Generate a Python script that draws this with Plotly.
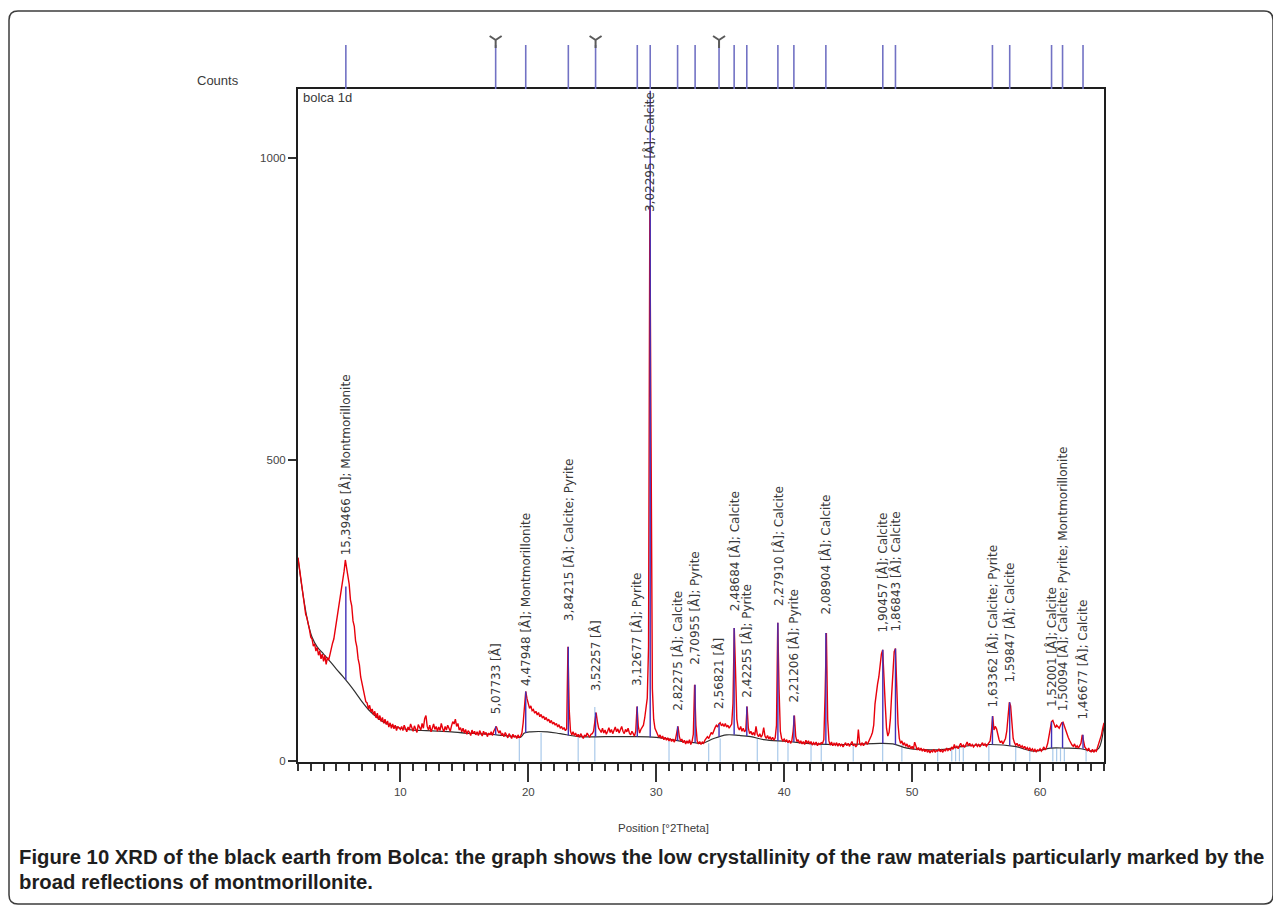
import plotly.graph_objects as go

# ---------------- data ----------------
scan_start = 2.0      # °2Theta of first sample
scan_step = 0.1       # °2Theta step
counts = [
    338, 322, 301, 290, 271, 262, 244, 238, 224, 218,   # 2
    206, 203, 191, 195, 183, 189, 176, 183, 170, 178,   # 3
    166, 176, 161, 172, 168, 179, 184, 196, 203, 217,   # 4
    229, 241, 259, 268, 288, 296, 315, 334, 321, 303,   # 5
    294, 268, 258, 233, 224, 200, 190, 170, 160, 140,   # 6
    131, 117, 112, 99, 97, 87, 93, 82, 87, 77,          # 7
    83, 72, 80, 69, 76, 66, 73, 63, 70, 61,             # 8
    67, 57, 64, 55, 62, 54, 60, 51, 58, 55,             # 9
    53, 58, 51, 60, 55, 49, 57, 52, 62, 54,             # 10
    50, 59, 53, 48, 61, 56, 52, 63, 55, 71,             # 11
    76, 58, 52, 60, 49, 55, 62, 53, 58, 50,             # 12
    57, 51, 63, 55, 49, 58, 52, 60, 54, 50,             # 13
    59, 66, 62, 70, 58, 63, 52, 56, 49, 55,             # 14
    47, 53, 45, 51, 48, 43, 52, 46, 50, 44,             # 15
    49, 43, 51, 46, 42, 50, 45, 48, 41, 47,             # 16
    44, 49, 43, 50, 55, 58, 52, 47, 51, 44,             # 17
    46, 41, 48, 43, 39, 46, 42, 38, 45, 40,             # 18
    43, 38, 44, 39, 42, 47, 64, 98, 116, 104,           # 19
    95, 88, 92, 84, 86, 80, 83, 77, 81, 74,             # 20
    78, 72, 75, 69, 73, 67, 70, 64, 68, 62,             # 21
    65, 60, 63, 57, 61, 55, 58, 53, 56, 51,             # 22
    54, 190, 85, 50, 44, 49, 43, 47, 41, 45,            # 23
    40, 46, 42, 38, 44, 41, 47, 43, 40, 45,             # 24
    46, 50, 70, 81, 66, 55, 52, 48, 55, 47,             # 25
    52, 45, 50, 56, 48, 53, 46, 51, 57, 49,             # 26
    54, 47, 52, 58, 50, 46, 53, 49, 55, 47,             # 27
    44, 50, 46, 42, 50, 91, 58, 47, 53, 58,             # 28
    60, 72, 85, 105, 190, 920, 520, 120, 70, 55,        # 29
    50, 46, 40, 44, 38, 42, 36, 40, 35, 39,             # 30
    34, 38, 33, 37, 32, 36, 48, 58, 42, 34,             # 31
    37, 31, 35, 29, 34, 30, 36, 28, 33, 45,             # 32
    127, 60, 34, 29, 33, 28, 32, 30, 35, 38,            # 33
    41, 38, 44, 48, 45, 52, 56, 60, 57, 62,             # 34
    64, 59, 62, 58, 63, 57, 60, 55, 58, 62,             # 35
    96, 221, 150, 70, 56, 52, 58, 50, 55, 49,           # 36
    52, 91, 55, 46, 50, 44, 48, 43, 58, 45,             # 37
    41, 46, 40, 44, 56, 42, 38, 43, 37, 41,             # 38
    36, 40, 35, 39, 60, 230, 120, 50, 38, 34,           # 39
    37, 33, 36, 31, 35, 30, 34, 50, 76, 42,             # 40
    33, 36, 30, 34, 29, 33, 28, 35, 30, 34,             # 41
    29, 33, 27, 31, 28, 32, 26, 30, 28, 31,             # 42
    30, 36, 110, 213, 70, 34, 27, 32, 26, 30,           # 43
    27, 31, 25, 30, 26, 29, 24, 28, 31, 26,             # 44
    30, 25, 28, 33, 26, 29, 24, 27, 53, 30,             # 45
    27, 31, 26, 29, 33, 28, 32, 36, 42, 48,             # 46
    60, 95, 118, 128, 140, 165, 178, 185, 150, 95,      # 47
    55, 42, 48, 70, 110, 150, 182, 187, 120, 62,        # 48
    38, 30, 34, 27, 31, 25, 29, 23, 27, 21,             # 49
    25, 20, 32, 24, 19, 23, 18, 22, 17, 21,             # 50
    16, 20, 15, 19, 14, 18, 16, 20, 15, 18,             # 51
    17, 21, 16, 19, 15, 20, 17, 22, 18, 21,             # 52
    19, 24, 20, 28, 22, 25, 21, 26, 30, 24,             # 53
    27, 23, 29, 32, 26, 30, 25, 28, 24, 27,             # 54
    29, 25, 28, 24, 27, 31, 26, 29, 25, 28,             # 55
    30, 34, 50, 75, 52, 58, 54, 42, 36, 31,             # 56
    34, 29, 33, 38, 50, 75, 98, 92, 55, 38,             # 57
    31, 27, 30, 25, 28, 23, 26, 22, 25, 20,             # 58
    23, 19, 22, 18, 21, 17, 20, 16, 19, 18,             # 59
    21, 17, 20, 24, 19, 23, 30, 42, 58, 66,             # 60
    68, 62, 56, 60, 58, 55, 60, 64, 65, 58,             # 61
    52, 46, 40, 35, 30, 27, 25, 29, 23, 26,             # 62
    22, 25, 30, 44, 36, 24, 21, 18, 22, 17,             # 63
    16, 20, 15, 19, 17, 24, 28, 36, 44, 55,             # 64
    64,                                                 # 65
]

# fitted background (black curve)
bg_theta = [2.0, 2.2, 2.5, 2.8, 3.1, 3.5, 4.0, 4.5, 5.0, 5.5, 6.0, 6.5, 7.0, 7.5,
            8.0, 8.5, 9.0, 9.5, 10, 11, 12, 13, 14, 15, 16, 17, 18, 19, 19.4, 19.7,
            20.2, 21.5, 22.5, 24, 26, 28, 30, 31, 32, 33, 33.6, 34.5, 35.5, 36.5,
            37.4, 38.4, 40.2, 42.3, 44.9, 47.5, 48.5, 49.6, 51.4, 52.5, 54.0, 56.1,
            58.0, 59.5, 60.8, 62.0, 63.2, 64.2, 64.6, 65.0]
bg_counts = [337, 305, 262, 228, 206, 190, 178, 166, 153, 141, 128, 114, 99, 86,
             76, 68, 62, 58, 55, 52, 51, 50, 49, 47, 46, 45, 43, 41, 40, 47,
             49, 49, 46, 41, 41, 41, 40, 37, 33, 31, 30, 38, 44, 43,
             41, 36, 33, 29, 28, 30, 29, 22, 19, 20, 25, 28,
             25, 17, 22, 22, 21, 17, 22, 60]

# identified peaks
peak_theta = [5.74, 17.45, 19.80, 23.13, 25.26, 28.52, 29.53, 31.67, 33.04, 34.91, 36.09,
              37.08, 39.51, 40.76, 43.26, 47.71, 48.70, 56.28, 57.63, 60.90, 61.76, 63.36]
peak_d = ["15,39466", "5,07733", "4,47948", "3,84215", "3,52257", "3,12677", "3,02295",
          "2,82275", "2,70955", "2,56821", "2,48684", "2,42255", "2,27910", "2,21206",
          "2,08904", "1,90457", "1,86843", "1,63362", "1,59847", "1,52001", "1,50094",
          "1,46677"]
peak_phase = ["Montmorillonite", "", "Montmorillonite", "Calcite; Pyrite", "", "Pyrite",
              "Calcite", "Calcite", "Pyrite", "", "Calcite", "Pyrite", "Calcite", "Pyrite",
              "Calcite", "Calcite", "Calcite", "Calcite; Pyrite", "Calcite", "Calcite",
              "Calcite; Pyrite; Montmorillonite", "Calcite"]
peak_top = [290, 58, 116, 190, 81, 91, 1112, 58, 127, 62, 221, 91, 230, 76, 213, 185, 187,
            75, 98, 66, 65, 44]
peak_base = [135, 44, 47, 43, 41, 41, 40, 34, 31, 41, 44, 42, 34, 32, 29, 30, 28, 28, 26,
             22, 22, 21]
label_base = [339, 75, 122, 229, 113, 122, 908, 80, 157, 83, 246, 102, 254, 94, 240, 210,
              213, 86, 127, 86, 80, 66]

# reference pattern lines (light blue, from the axis)
ref_theta = [19.3, 21.0, 23.9, 25.2, 31.0, 34.1, 35.0, 37.9, 39.5, 40.3, 42.1, 42.9, 45.4,
             47.7, 49.2, 52.0, 53.1, 53.4, 53.7, 54.0, 56.0, 58.1, 59.2, 61.0, 61.3, 61.6,
             61.9, 63.6]
ref_height = [38, 47, 40, 90, 36, 30, 38, 38, 33, 32, 29, 29, 28, 30, 28, 19, 22, 23, 23,
              24, 28, 25, 18, 22, 22, 22, 22, 21]

x_ticks = [10, 20, 30, 40, 50, 60]
y_ticks = [0, 500, 1000]

# ---------------- figure ----------------
OFF = 8                      # page body margin of the html page
W, H = 1281 - OFF, 906 - OFF
TOP_STRIP = 28               # top of the stick strip (reference px)
ML, MR, MT, MB = 298 - OFF, 177, TOP_STRIP - OFF, 144
PW, PH = W - ML - MR, H - MT - MB
BOX_TOP = 89 - OFF
main_top = (H - MB - BOX_TOP) / PH
STRIP_H = 89 - TOP_STRIP
STICK_TOP = (89 - 45) / STRIP_H      # sticks reach y=45 px
V_POS = (89 - 40) / STRIP_H          # marker centre at y=40 px


def px(xp):
    """reference-screen x pixel -> paper x"""
    return (xp - OFF - ML) / PW


def py(yp):
    """reference-screen y pixel -> paper y"""
    return (H - MB - (yp - OFF)) / PH


theta = [round(scan_start + i * scan_step, 2) for i in range(len(counts))]

fig = go.Figure()

# light-blue reference sticks
rx, ry = [], []
for t, h in zip(ref_theta, ref_height):
    rx += [t, t, None]
    ry += [0, h, None]
fig.add_trace(go.Scatter(x=rx, y=ry, mode="lines", line=dict(color="#a9c9ea", width=1.2),
                         hoverinfo="skip"))

# background
fig.add_trace(go.Scatter(x=bg_theta, y=bg_counts, mode="lines",
                         line=dict(color="#303030", width=1.2, shape="spline")))

# measured pattern
fig.add_trace(go.Scatter(x=theta, y=counts, mode="lines",
                         line=dict(color="#e8000b", width=1.4)))

# peak sticks
sx, sy = [], []
for t, b, tp in zip(peak_theta, peak_base, peak_top):
    sx += [t, t, None]
    sy += [b, tp, None]
fig.add_trace(go.Scatter(x=sx, y=sy, mode="lines", line=dict(color="#4030b8", width=1.4)))

# stick pattern above the plot
tx, ty = [], []
for t in peak_theta:
    tx += [t, t, None]
    ty += [0, STICK_TOP, None]
fig.add_trace(go.Scatter(x=tx, y=ty, mode="lines", xaxis="x2", yaxis="y2",
                         line=dict(color="#7272c4", width=1.6)))
v_x = [t for t, ph in zip(peak_theta, peak_phase) if ph == ""]
fig.add_trace(go.Scatter(x=v_x, y=[V_POS] * len(v_x), mode="markers", xaxis="x2", yaxis="y2",
                         marker=dict(symbol="y-down-open", size=10, color="#5a5a5a",
                                     line=dict(color="#5a5a5a", width=2))))

# peak labels
for t, d, ph, lb in zip(peak_theta, peak_d, peak_phase, label_base):
    txt = f"{d} [Å]" + (f"; {ph}" if ph else "")
    fig.add_annotation(x=t, y=lb, xref="x", yref="y", text=txt, textangle=-90,
                       showarrow=False, xanchor="center", yanchor="bottom",
                       font=dict(family="DejaVu Sans", size=12, color="#3a3a3a"))

txt_font = dict(family="Liberation Sans", color="#3a3a3a")
fig.add_annotation(x=px(218), y=py(80), xref="paper", yref="paper", text="Counts",
                   showarrow=False, xanchor="center", yanchor="middle",
                   font=dict(size=13, **txt_font))
fig.add_annotation(x=px(301), y=py(98), xref="paper", yref="paper", text="bolca 1d",
                   showarrow=False, xanchor="left", yanchor="middle",
                   font=dict(size=13, **txt_font))
fig.add_annotation(x=px(663), y=py(828), xref="paper", yref="paper",
                   text="Position [°2Theta]", showarrow=False, xanchor="center",
                   yanchor="middle", font=dict(size=11.5, **txt_font))

cap_font = dict(family="Liberation Sans", size=20.3, color="#1e1e1e")
fig.add_annotation(x=px(17), y=py(857), xref="paper", yref="paper",
                   text="<b>Figure 10</b> <b>XRD of the black earth from Bolca: the graph shows the low "
                        "crystallinity of the raw materials particularly marked by the</b>",
                   showarrow=False, xanchor="left", yanchor="middle", font=cap_font)
fig.add_annotation(x=px(17), y=py(882), xref="paper", yref="paper",
                   text="<b>broad reflections of montmorillonite.</b>",
                   showarrow=False, xanchor="left", yanchor="middle", font=cap_font)

# rounded outer frame
x0, x1, y0, y1, r = 9, 1273, 11, 904, 9
path = (f"M {px(x0 + r)},{py(y0)} L {px(x1 - r)},{py(y0)} "
        f"Q {px(x1)},{py(y0)} {px(x1)},{py(y0 + r)} L {px(x1)},{py(y1 - r)} "
        f"Q {px(x1)},{py(y1)} {px(x1 - r)},{py(y1)} L {px(x0 + r)},{py(y1)} "
        f"Q {px(x0)},{py(y1)} {px(x0)},{py(y1 - r)} L {px(x0)},{py(y0 + r)} "
        f"Q {px(x0)},{py(y0)} {px(x0 + r)},{py(y0)} Z")
fig.add_shape(type="path", path=path, xref="paper", yref="paper",
              line=dict(color="#3c3c3c", width=1.5), layer="below")

tick_font = dict(family="Liberation Sans", size=11.5, color="#444444")
fig.update_layout(
    width=W, height=H, margin=dict(l=ML, r=MR, t=MT, b=MB, autoexpand=False),
    plot_bgcolor="white", paper_bgcolor="white", showlegend=False,
    xaxis=dict(range=[2, 65], domain=[0, 1], anchor="y", tickvals=x_ticks,
               ticks="outside", ticklen=18, tickwidth=1.5, tickcolor="#333",
               showline=True, linecolor="#1e1e1e", linewidth=2, mirror=True,
               showgrid=False, zeroline=False, tickfont=tick_font,
               minor=dict(dtick=1, tick0=0, ticks="outside", ticklen=7, tickwidth=1.5,
                          tickcolor="#333", showgrid=False)),
    yaxis=dict(range=[-1, 1115], domain=[0, main_top], anchor="x", tickvals=y_ticks,
               ticks="outside", ticklen=8, tickwidth=1.5, tickcolor="#333",
               showline=True, linecolor="#1e1e1e", linewidth=2, mirror=True,
               showgrid=False, zeroline=False, tickfont=tick_font),
    xaxis2=dict(matches="x", anchor="y2", domain=[0, 1], visible=False),
    yaxis2=dict(range=[0, 1], domain=[main_top, 1], anchor="x2", visible=False),
)

fig.write_html("out.html")
